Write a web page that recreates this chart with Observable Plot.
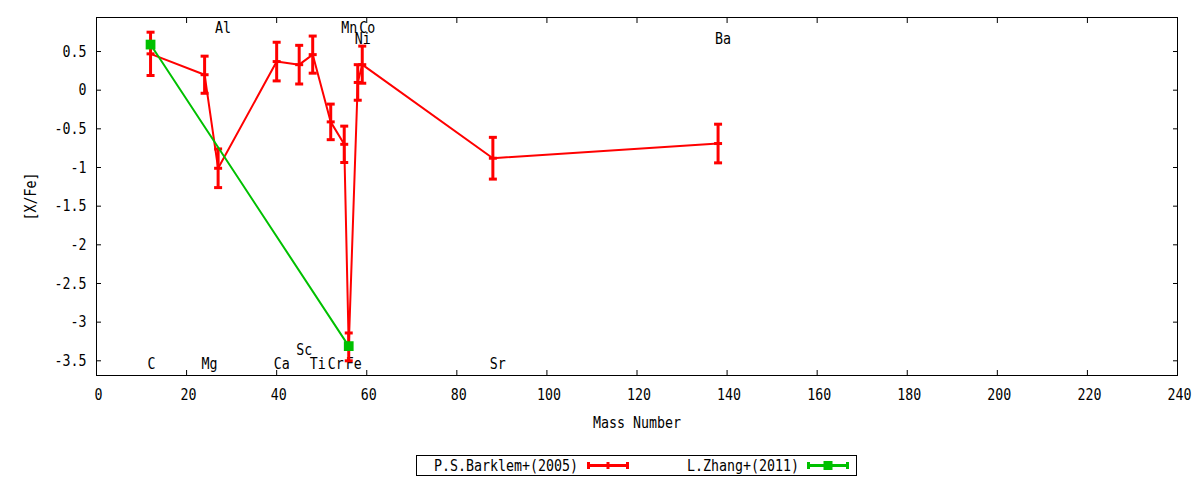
<!DOCTYPE html>
<html><head><meta charset="utf-8">
<script src="https://cdn.jsdelivr.net/npm/d3@7"></script>
<script src="https://cdn.jsdelivr.net/npm/@observablehq/plot@0.6"></script>
<style>
body{margin:0;background:#fff;}
#wrap{position:relative;width:1200px;height:480px;font-family:"DejaVu Sans Mono",monospace;font-size:13px;}
#legend{position:absolute;left:416px;top:455px;width:439px;height:19px;border:1px solid #000;}
</style></head><body><div id="wrap"><div id="chart"></div><div id="legend"></div></div>
<script>
// Element names and mass numbers (x)
const elements   = ["C","Mg","Al","Ca","Sc","Ti","Cr","Mn","Fe","Ni","Co","Sr","Ba"];
const massNumber = [12, 24, 27, 40, 45, 48, 52, 55, 56, 58, 59, 88, 138];
// P.S.Barklem+(2005) [X/Fe] and errors
const barklemVal = [0.47, 0.20, -1.01, 0.37, 0.33, 0.46, -0.41, -0.70, -3.32, 0.10, 0.33, -0.88, -0.69];
const barklemErr = [0.28, 0.24, 0.25, 0.25, 0.25, 0.24, 0.23, 0.235, 0.18, 0.23, 0.24, 0.27, 0.25];
// L.Zhang+(2011)
const zhangElements = ["C","Fe"];
const zhangMass = [12, 56];
const zhangVal  = [0.59, -3.31];
// Element label y-positions (in [X/Fe] units)
const labelY = [-3.54, -3.54, 0.81, -3.54, -3.36, -3.54, -3.54, 0.81, -3.54, 0.67, 0.81, -3.54, 0.67];
// Ticks
const xTicks = [0,20,40,60,80,100,120,140,160,180,200,220,240];
const yTicks = [0.5,0,-0.5,-1,-1.5,-2,-2.5,-3,-3.5];

const red = "#ff0000", green = "#00c000";
const barklem = elements.map((e,i)=>({el:e, x:massNumber[i], y:barklemVal[i], lo:barklemVal[i]-barklemErr[i], hi:barklemVal[i]+barklemErr[i]}));
const zhang = zhangElements.map((e,i)=>({el:e, x:zhangMass[i], y:zhangVal[i]}));
const labels = elements.map((e,i)=>({el:e, x:massNumber[i], y:labelY[i]}));

const hbar = {draw(ctx,size){const w=Math.sqrt(size/Math.PI)*2; ctx.moveTo(-w/2,0); ctx.lineTo(w/2,0);}};

const plot = Plot.plot({
  width:1200, height:445, marginLeft:96, marginRight:23, marginTop:17, marginBottom:70,
  style:{fontFamily:"'DejaVu Sans Mono', monospace", fontSize:"13px", color:"black", background:"white"},
  x:{domain:[0,240]},
  y:{domain:[-3.69,0.94]},
  marks:[
    Plot.frame({stroke:"black"}),
    Plot.axisX(xTicks,{anchor:"bottom", tickSize:-5, tickFormat:()=>"", label:"Mass Number", labelAnchor:"center", labelArrow:"none", labelOffset:52}),
    Plot.axisX(xTicks,{anchor:"bottom", tickSize:0, tickPadding:13, dx:2, tickFormat:d=>String(d), label:null}),
    Plot.axisX(xTicks,{anchor:"top", tickSize:-5, tickFormat:()=>"", label:null}),
    Plot.axisY(yTicks,{anchor:"left", tickSize:-5, tickPadding:15, tickFormat:d=>String(d), label:"[X/Fe]", labelAnchor:"center", labelArrow:"none", labelOffset:72}),
    Plot.axisY(yTicks,{anchor:"right", tickSize:-5, tickFormat:()=>"", label:null}),
    Plot.text(labels,{x:"x", y:"y", text:"el", textAnchor:"start", dx:-3}),
    Plot.line(barklem,{x:"x", y:"y", stroke:red, strokeWidth:2}),
    Plot.ruleX(barklem,{x:"x", y1:"lo", y2:"hi", stroke:red, strokeWidth:3}),
    Plot.dot(barklem,{x:"x", y:"lo", symbol:hbar, r:4, stroke:red, strokeWidth:3}),
    Plot.dot(barklem,{x:"x", y:"hi", symbol:hbar, r:4, stroke:red, strokeWidth:3}),
    Plot.dot(barklem,{x:"x", y:"y", symbol:hbar, r:4, stroke:red, strokeWidth:3}),
    Plot.line(zhang,{x:"x", y:"y", stroke:green, strokeWidth:2}),
    Plot.dot(zhang,{x:"x", y:"y", symbol:"square", r:5.5, fill:green})
  ]
});
document.getElementById("chart").appendChild(plot);

// Legend
const series = [
  {name:"P.S.Barklem+(2005)", color:red, textEnd:161, x1:170, x2:212, mark:"bar"},
  {name:"L.Zhang+(2011)", color:green, textEnd:382, x1:390, x2:432, mark:"square"}
];
const lg = d3.select("#legend").append("svg").attr("width",439).attr("height",19)
  .style("font-family","'DejaVu Sans Mono', monospace").style("font-size","13px");
series.forEach(s=>{
  lg.append("text").attr("x",s.textEnd).attr("y",9.5).attr("dy","0.35em").attr("text-anchor","end").text(s.name);
  lg.append("line").attr("x1",s.x1).attr("x2",s.x2).attr("y1",9.5).attr("y2",9.5).attr("stroke",s.color).attr("stroke-width",3);
  [s.x1+1.5, s.x2-1.5].forEach(x=>lg.append("line").attr("x1",x).attr("x2",x).attr("y1",6).attr("y2",13).attr("stroke",s.color).attr("stroke-width",3));
  const mx=(s.x1+s.x2)/2;
  if(s.mark==="bar") lg.append("line").attr("x1",mx).attr("x2",mx).attr("y1",6).attr("y2",13).attr("stroke",s.color).attr("stroke-width",3);
  else lg.append("rect").attr("x",mx-4.5).attr("y",5).attr("width",9).attr("height",9).attr("fill",s.color);
});

// Narrow, tall monospace look (gnuplot-like): compress 16px glyphs to 8px advance
d3.selectAll("#wrap svg text").each(function(){
  const t = this.textContent;
  if (!t || !t.length) return;
  this.style.fontSize = "16px";
  this.setAttribute("textLength", t.length * 8);
  this.setAttribute("lengthAdjust", "spacingAndGlyphs");
});
</script></body></html>
